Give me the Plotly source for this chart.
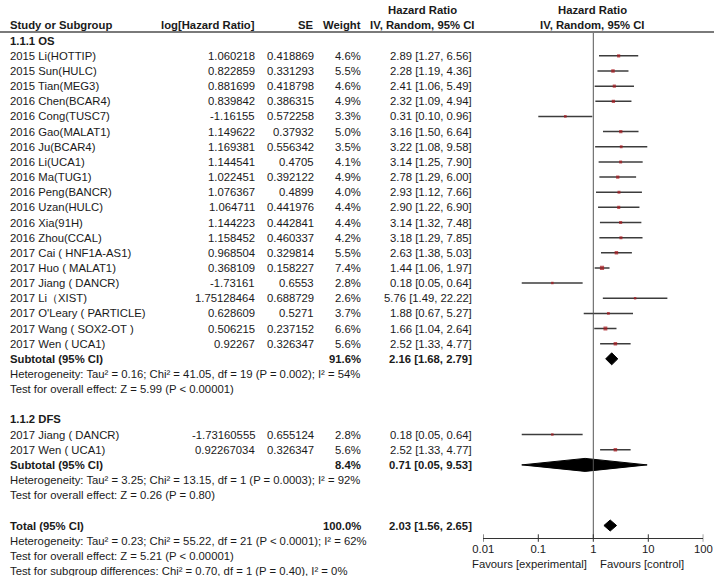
import plotly.graph_objects as go

W, H = 714, 576

# ---------------- data ----------------
os_studies = ["2015 Li(HOTTIP)", "2015 Sun(HULC)", "2015 Tian(MEG3)", "2016 Chen(BCAR4)",
              "2016 Cong(TUSC7)", "2016 Gao(MALAT1)", "2016 Ju(BCAR4)", "2016 Li(UCA1)",
              "2016 Ma(TUG1)", "2016 Peng(BANCR)", "2016 Uzan(HULC)", "2016 Xia(91H)",
              "2016 Zhou(CCAL)", "2017 Cai ( HNF1A-AS1)", "2017 Huo ( MALAT1)",
              "2017 Jiang ( DANCR)", "2017 Li（XIST)", "2017 O'Leary ( PARTICLE)",
              "2017 Wang ( SOX2-OT )", "2017 Wen ( UCA1)"]
os_loghr = ["1.060218", "0.822859", "0.881699", "0.839842", "-1.16155", "1.149622", "1.169381",
            "1.144541", "1.022451", "1.076367", "1.064711", "1.144223", "1.158452", "0.968504",
            "0.368109", "-1.73161", "1.75128464", "0.628609", "0.506215", "0.92267"]
os_se = ["0.418869", "0.331293", "0.418798", "0.386315", "0.572258", "0.37932", "0.556342",
         "0.4705", "0.392122", "0.4899", "0.441976", "0.442841", "0.460337", "0.329814",
         "0.158227", "0.6553", "0.688729", "0.5271", "0.237152", "0.326347"]
os_weight = [4.6, 5.5, 4.6, 4.9, 3.3, 5.0, 3.5, 4.1, 4.9, 4.0, 4.4, 4.4, 4.2, 5.5, 7.4, 2.8, 2.6, 3.7, 6.6, 5.6]
os_hr = [2.89, 2.28, 2.41, 2.32, 0.31, 3.16, 3.22, 3.14, 2.78, 2.93, 2.90, 3.14, 3.18, 2.63, 1.44, 0.18, 5.76, 1.88, 1.66, 2.52]
os_lo = [1.27, 1.19, 1.06, 1.09, 0.10, 1.50, 1.08, 1.25, 1.29, 1.12, 1.22, 1.32, 1.29, 1.38, 1.06, 0.05, 1.49, 0.67, 1.04, 1.33]
os_hi = [6.56, 4.36, 5.49, 4.94, 0.96, 6.64, 9.58, 7.90, 6.00, 7.66, 6.90, 7.48, 7.85, 5.03, 1.97, 0.64, 22.22, 5.27, 2.64, 4.77]

dfs_studies = ["2017 Jiang ( DANCR)", "2017 Wen ( UCA1)"]
dfs_loghr = ["-1.73160555", "0.92267034"]
dfs_se = ["0.655124", "0.326347"]
dfs_weight = [2.8, 5.6]
dfs_hr = [0.18, 2.52]
dfs_lo = [0.05, 1.33]
dfs_hi = [0.64, 4.77]

# subtotal / total: [hr, lo, hi, weight]
os_sub = [2.16, 1.68, 2.79, 91.6]
dfs_sub = [0.71, 0.05, 9.53, 8.4]
total = [2.03, 1.56, 2.65, 100.0]

os_het = "Heterogeneity: Tau² = 0.16; Chi² = 41.05, df = 19 (P = 0.002); I² = 54%"
os_test = "Test for overall effect: Z = 5.99 (P < 0.00001)"
dfs_het = "Heterogeneity: Tau² = 3.25; Chi² = 13.15, df = 1 (P = 0.0003); I² = 92%"
dfs_test = "Test for overall effect: Z = 0.26 (P = 0.80)"
tot_het = "Heterogeneity: Tau² = 0.23; Chi² = 55.22, df = 21 (P < 0.0001); I² = 62%"
tot_test = "Test for overall effect: Z = 5.21 (P < 0.00001)"
tot_sub = "Test for subgroup differences: Chi² = 0.70, df = 1 (P = 0.40), I² = 0%"

tick_vals = [0.01, 0.1, 1, 10, 100]
tick_text = ["0.01", "0.1", "1", "10", "100"]

# ---------------- layout helpers ----------------
FONT = "Liberation Sans, Arial, sans-serif"
FS = 11.3
TXT = "#1a1a1a"
ROW0, DY = 40.7, 15.15


def rowy(i):
    return ROW0 + DY * i


X_NAME, X_LOG, X_SE, X_W, X_CI = 9, 256, 315, 362, 472.5
PLOT_L, PLOT_R = 483.3, 703.3
AXIS_Y = 538.3

fig = go.Figure()
ann = []


def text(s, px, py, anchor="left", bold=False, size=FS):
    ann.append(dict(text=f"<b>{s}</b>" if bold else s, x=px / W, y=py, xref="paper", yref="y",
                    xanchor=anchor, yanchor="middle", showarrow=False, borderpad=0,
                    font=dict(family=FONT, size=size, color=TXT)))


# headers
text("Study or Subgroup", X_NAME, 25, bold=True)
text("log[Hazard Ratio]", X_LOG, 25, "right", bold=True)
text("SE", X_SE, 25, "right", bold=True)
text("Weight", X_W, 25, "right", bold=True)
text("Hazard Ratio", 422, 10, "center", bold=True)
text("IV, Random, 95% CI", 422, 25, "center", bold=True)
text("Hazard Ratio", 592, 10, "center", bold=True)
text("IV, Random, 95% CI", 592, 25, "center", bold=True)

# rows
text("1.1.1 OS", X_NAME, rowy(0), bold=True)
os_rows = [rowy(1 + k) for k in range(len(os_studies))]
for k, y in enumerate(os_rows):
    text(os_studies[k], X_NAME, y)
    text(os_loghr[k], X_LOG, y, "right")
    text(os_se[k], X_SE, y, "right")
    text(f"{os_weight[k]:.1f}%", X_W, y, "right")
    text(f"{os_hr[k]:.2f} [{os_lo[k]:.2f}, {os_hi[k]:.2f}]", X_CI, y, "right")
y_os_sub = rowy(21)
text("Subtotal (95% CI)", X_NAME, y_os_sub, bold=True)
text(f"{os_sub[3]:.1f}%", X_W, y_os_sub, "right", bold=True)
text(f"{os_sub[0]:.2f} [{os_sub[1]:.2f}, {os_sub[2]:.2f}]", X_CI, y_os_sub, "right", bold=True)
text(os_het, X_NAME, rowy(22))
text(os_test, X_NAME, rowy(23))

text("1.1.2 DFS", X_NAME, rowy(25), bold=True)
dfs_rows = [rowy(26 + k) for k in range(len(dfs_studies))]
for k, y in enumerate(dfs_rows):
    text(dfs_studies[k], X_NAME, y)
    text(dfs_loghr[k], X_LOG, y, "right")
    text(dfs_se[k], X_SE, y, "right")
    text(f"{dfs_weight[k]:.1f}%", X_W, y, "right")
    text(f"{dfs_hr[k]:.2f} [{dfs_lo[k]:.2f}, {dfs_hi[k]:.2f}]", X_CI, y, "right")
y_dfs_sub = rowy(28)
text("Subtotal (95% CI)", X_NAME, y_dfs_sub, bold=True)
text(f"{dfs_sub[3]:.1f}%", X_W, y_dfs_sub, "right", bold=True)
text(f"{dfs_sub[0]:.2f} [{dfs_sub[1]:.2f}, {dfs_sub[2]:.2f}]", X_CI, y_dfs_sub, "right", bold=True)
text(dfs_het, X_NAME, rowy(29))
text(dfs_test, X_NAME, rowy(30))

y_tot = rowy(32)
text("Total (95% CI)", X_NAME, y_tot, bold=True)
text(f"{total[3]:.1f}%", X_W, y_tot, "right", bold=True)
text(f"{total[0]:.2f} [{total[1]:.2f}, {total[2]:.2f}]", X_CI, y_tot, "right", bold=True)
text(tot_het, X_NAME, rowy(33))
text(tot_test, X_NAME, rowy(34))
text(tot_sub, X_NAME, rowy(35))

text("Favours [experimental]", 588, 564, "right")
text("Favours [control]", 599, 564, "left")

# ---------------- forest marks ----------------
LINE_C = "#3c3c3c"
DOT_C = "#a8161b"


def study_trace(hr, lo, hi, ys, w):
    fig.add_trace(go.Scatter(
        x=hr, y=ys, mode="markers",
        marker=dict(symbol="square", size=[1.5 + 0.36 * v for v in w], color=DOT_C, line=dict(width=0)),
        error_x=dict(type="data", symmetric=False,
                     array=[h - m for h, m in zip(hi, hr)],
                     arrayminus=[m - l for m, l in zip(hr, lo)],
                     color=LINE_C, thickness=1.5, width=0),
        showlegend=False, hoverinfo="skip"))


study_trace(os_hr, os_lo, os_hi, os_rows, os_weight)
study_trace(dfs_hr, dfs_lo, dfs_hi, dfs_rows, dfs_weight)


def diamond(vals, y, half=6):
    hr, lo, hi = vals[0], vals[1], vals[2]
    fig.add_trace(go.Scatter(
        x=[lo, hr, hi, hr, lo], y=[y, y - half, y, y + half, y],
        mode="lines", fill="toself", fillcolor="black", line=dict(color="black", width=1),
        showlegend=False, hoverinfo="skip"))


diamond(os_sub, y_os_sub)
diamond(dfs_sub, y_dfs_sub, 6.5)
diamond(total, y_tot, 5.5)

shapes = [
    dict(type="line", xref="paper", yref="y", x0=0, x1=1, y0=32, y1=32,
         line=dict(color="#7a7a7a", width=2)),
    dict(type="line", xref="x", yref="y", x0=1, x1=1, y0=33, y1=AXIS_Y,
         line=dict(color="#555555", width=1)),
]
for tv in tick_vals:
    shapes.append(dict(type="line", xref="x", yref="y", x0=tv, x1=tv, y0=AXIS_Y - 4, y1=AXIS_Y + 3.5,
                       line=dict(color="#333333", width=1)))
fig.update_layout(shapes=shapes, annotations=ann)

fig.update_layout(
    width=W, height=H, margin=dict(l=0, r=0, t=0, b=0, pad=0), autosize=False,
    paper_bgcolor="white", plot_bgcolor="white",
    xaxis=dict(type="log", range=[-2, 2], domain=[PLOT_L / W, PLOT_R / W],
               anchor="free", position=1 - AXIS_Y / H, automargin=False,
               showline=True, linecolor="#333333", linewidth=1,
               ticks="", tickvals=tick_vals, ticktext=tick_text,
               tickfont=dict(family=FONT, size=FS, color=TXT),
               showgrid=False, zeroline=False),
    yaxis=dict(range=[H, 0], domain=[0, 1], visible=False, showgrid=False, zeroline=False,
               automargin=False),
)

fig.write_html("out.html", config={"responsive": False, "displayModeBar": False},
               post_script="document.body.style.margin='0';document.body.style.overflow='hidden';")
